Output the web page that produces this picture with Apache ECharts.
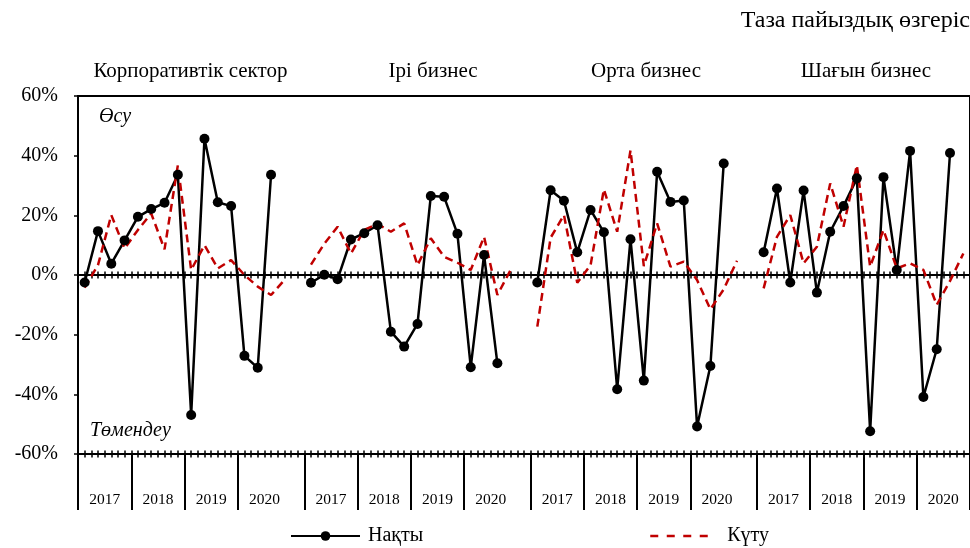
<!DOCTYPE html>
<html>
<head>
<meta charset="utf-8">
<script src="https://cdn.jsdelivr.net/npm/echarts@6/dist/echarts.min.js"></script>
<style>
  html, body { margin: 0; padding: 0; background: #fff; }
  #chart { width: 970px; height: 548px; }
</style>
</head>
<body>
<div id="chart"></div>
<script>
  const panels = ['Корпоративтік сектор', 'Ірі бизнес', 'Орта бизнес', 'Шағын бизнес']
  const years = ['2017', '2018', '2019', '2020']
  const quarters = ['Q1', 'Q2', 'Q3', 'Q4']

  // Нақты (actual), Q1 2017 .. Q3 2020
  const actualCorp = [-2.5, 14.7, 3.8, 11.6, 19.5, 22.1, 24.2, 33.6, -46.9, 45.7, 24.4, 23.1, -27.1, -31.1, 33.6]
  const actualLarge = [-2.6, 0.1, -1.4, 11.9, 14.0, 16.7, -19.0, -24.0, -16.4, 26.5, 26.2, 13.8, -30.9, 6.7, -29.6]
  const actualMid = [-2.5, 28.4, 24.9, 7.6, 21.8, 14.3, -38.3, 12.0, -35.4, 34.6, 24.5, 25.0, -50.8, -30.5, 37.4]
  const actualSmall = [7.6, 29.0, -2.5, 28.3, -5.9, 14.5, 23.1, 32.4, -52.4, 32.8, 1.7, 41.6, -40.9, -24.9, 40.9]

  // Күту (expected), Q1 2017 .. Q4 2020
  const expectCorp = [-4.2, 3.3, 20.1, 8.9, 15.1, 20.6, 8.6, 36.8, 1.7, 10.0, 2.2, 5.0, 0.0, -3.9, -6.7, -1.7]
  const expectLarge = [3.5, 10.5, 16.2, 7.2, 15.1, 17.1, 14.5, 17.3, 3.3, 12.3, 6.1, 4.1, 1.7, 12.8, -6.7, 1.7]
  const expectMid = [-17.3, 12.5, 20.1, -2.6, 3.3, 28.7, 14.5, 41.8, 3.0, 17.3, 2.8, 4.5, -1.7, -11.5, -4.8, 4.8]
  const expectSmall = [-4.5, 12.8, 20.1, 3.9, 9.5, 30.7, 16.2, 36.8, 2.8, 15.1, 2.2, 3.9, 1.7, -10.0, -2.0, 7.2]

  const yTicks = [-60, -40, -20, 0, 20, 40, 60]

  const actualAll = [actualCorp, actualLarge, actualMid, actualSmall]
  const expectAll = [expectCorp, expectLarge, expectMid, expectSmall]

  // one category per quarter, plus an empty slot between panels
  const categories = []
  const actualData = []
  const expectData = []
  const yearEdges = []
  const yearMids = []
  const yearOf = {}
  panels.forEach((p, pi) => {
    years.forEach((y, yi) => {
      const start = categories.length
      quarters.forEach((q, qi) => {
        const i = yi * 4 + qi
        categories.push(p + ' ' + y + ' ' + q)
        actualData.push(i < actualAll[pi].length ? actualAll[pi][i] : '-')
        expectData.push(expectAll[pi][i])
      })
      if (yi === years.length - 1 && pi < panels.length - 1) {
        categories.push('gap' + pi)
        actualData.push('-')
        expectData.push('-')
      }
      const end = categories.length
      yearEdges.push(start)
      const mid = yi === years.length - 1 ? start + 2 : (start + end) / 2
      yearMids.push(mid)
      yearOf[mid] = y
    })
  })
  yearEdges.push(categories.length)
  const nCat = categories.length

  const font = 'Liberation Serif'
  const black = '#000'
  const red = '#C00000'

  const tickAxis = (extra) => Object.assign({
    type: 'value',
    min: 0,
    max: nCat,
    interval: 0.5,
    axisLabel: { show: false },
    splitLine: { show: false },
    axisTick: { show: true, length: 3.5, lineStyle: { color: black, width: 1.5 } }
  }, extra)

  const chart = echarts.init(document.getElementById('chart'))
  chart.setOption({
    animation: false,
    backgroundColor: '#fff',
    textStyle: { fontFamily: font, color: black },
    grid: {
      left: 78,
      top: 96,
      width: 893.3,
      height: 358,
      show: true,
      borderColor: black,
      borderWidth: 2,
      backgroundColor: 'transparent'
    },
    legend: [
      {
        data: ['Нақты'],
        left: 290,
        top: 526,
        padding: 0,
        itemWidth: 69,
        itemHeight: 12,
        textStyle: { fontFamily: font, fontSize: 20, color: black, padding: [0, 0, 0, 3] }
      },
      {
        data: ['Күту'],
        left: 649,
        top: 526,
        padding: 0,
        itemWidth: 64,
        itemHeight: 12,
        itemStyle: { opacity: 0 },
        lineStyle: { type: [8, 8.5], width: 2.5 },
        textStyle: { fontFamily: font, fontSize: 20, color: black, padding: [0, 0, 0, 8] }
      }
    ],
    xAxis: [
      { type: 'category', data: categories, show: false, axisLine: { onZero: false } },
      tickAxis({ position: 'bottom', axisLine: { show: true, onZero: true, onZeroAxisIndex: 0, lineStyle: { color: black, width: 2 } } }),
      tickAxis({ position: 'top', axisLine: { show: false, onZero: true, onZeroAxisIndex: 1 } }),
      tickAxis({ position: 'bottom', axisLine: { show: false, onZero: false } }),
      tickAxis({ position: 'bottom', axisLine: { show: false, onZero: false }, axisTick: { show: true, inside: true, length: 3.5, lineStyle: { color: black, width: 1.5 } } }),
      {
        type: 'value',
        min: 0,
        max: nCat,
        position: 'bottom',
        axisLine: { show: false, onZero: false },
        splitLine: { show: false },
        axisTick: { show: true, customValues: yearEdges, length: 56, lineStyle: { color: black, width: 2 } },
        axisLabel: {
          customValues: yearMids,
          margin: 38,
          fontFamily: font,
          fontSize: 15.5,
          color: black,
          formatter: (v) => yearOf[v] || ''
        }
      }
    ],
    yAxis: [
      {
        type: 'value',
        min: yTicks[0],
        max: yTicks[yTicks.length - 1],
        interval: 20,
        axisLine: { show: true, onZero: false, lineStyle: { color: black, width: 2 } },
        axisTick: { show: true, length: 4, lineStyle: { color: black, width: 1.5 } },
        splitLine: { show: false },
        axisLabel: { formatter: '{value}%', fontFamily: font, fontSize: 20, color: black, margin: 20 }
      },
      { type: 'value', min: yTicks[0], max: yTicks[yTicks.length - 1], show: false, axisLine: { onZero: false } }
    ],
    series: [
      {
        name: 'Нақты',
        type: 'line',
        xAxisIndex: 0,
        yAxisIndex: 0,
        data: actualData,
        symbol: 'circle',
        symbolSize: 10,
        showSymbol: true,
        showAllSymbol: true,
        connectNulls: false,
        lineStyle: { color: black, width: 2.5 },
        itemStyle: { color: black }
      },
      {
        name: 'Күту',
        type: 'line',
        xAxisIndex: 0,
        yAxisIndex: 0,
        data: expectData,
        symbol: 'none',
        connectNulls: false,
        lineStyle: { color: red, width: 2.5, type: [8, 5] },
        itemStyle: { color: red }
      }
    ],
    graphic: [
      { type: 'text', x: 970, y: 21, style: { text: 'Таза пайыздық өзгеріс', font: '24px "Liberation Serif"', fill: black, align: 'right', verticalAlign: 'middle' } },
      { type: 'text', x: 190.4, y: 71, style: { text: panels[0], font: '21px "Liberation Serif"', fill: black, align: 'center', verticalAlign: 'middle' } },
      { type: 'text', x: 433, y: 71, style: { text: panels[1], font: '21px "Liberation Serif"', fill: black, align: 'center', verticalAlign: 'middle' } },
      { type: 'text', x: 646, y: 71, style: { text: panels[2], font: '21px "Liberation Serif"', fill: black, align: 'center', verticalAlign: 'middle' } },
      { type: 'text', x: 866, y: 71, style: { text: panels[3], font: '21px "Liberation Serif"', fill: black, align: 'center', verticalAlign: 'middle' } },
      { type: 'text', x: 99, y: 117, style: { text: 'Өсу', font: 'italic 20px "Liberation Serif"', fill: black, align: 'left', verticalAlign: 'middle' } },
      { type: 'text', x: 90, y: 431, style: { text: 'Төмендеу', font: 'italic 20px "Liberation Serif"', fill: black, align: 'left', verticalAlign: 'middle' } }
    ]
  })
</script>
</body>
</html>
